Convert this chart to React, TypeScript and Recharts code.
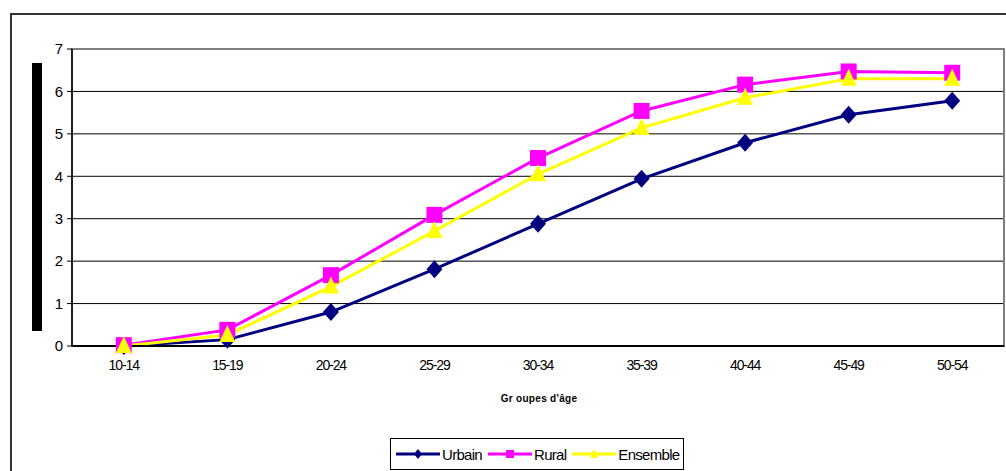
import React from 'react';
import { LineChart, Line, XAxis, YAxis, CartesianGrid, ReferenceArea, ReferenceLine } from 'recharts';

const groupes = ['10-14', '15-19', '20-24', '25-29', '30-34', '35-39', '40-44', '45-49', '50-54'];
const urbain = [0, 0.15, 0.8, 1.81, 2.88, 3.94, 4.79, 5.45, 5.78];
const rural = [0.02, 0.38, 1.67, 3.09, 4.43, 5.54, 6.16, 6.47, 6.44];
const ensemble = [0, 0.26, 1.4, 2.71, 4.05, 5.14, 5.85, 6.3, 6.3];
const yTicks = [0, 1, 2, 3, 4, 5, 6, 7];

const chartData = groupes.map((g, i) => ({
    idx: i,
    name: g,
    Urbain: urbain[i],
    Rural: rural[i],
    Ensemble: ensemble[i],
}));

const centerTicks = groupes.map((_, i) => i);
const edgeTicks = [...groupes.map((_, i) => i - 0.5), groupes.length - 0.5];

const font = '"Liberation Sans", Arial, sans-serif';

const Diamond = (props: any) => {
    const { cx, cy } = props;
    if (cx == null || cy == null) return null;
    const r = 9;
    return <path d={`M${cx},${cy - r}L${cx + 8},${cy}L${cx},${cy + r}L${cx - 8},${cy}Z`} fill="#000080" />;
};

const Square = (props: any) => {
    const { cx, cy } = props;
    if (cx == null || cy == null) return null;
    return <rect x={cx - 8} y={cy - 8} width={16} height={16} fill="#FF00FF" />;
};

const Triangle = (props: any) => {
    const { cx, cy } = props;
    if (cx == null || cy == null) return null;
    return <path d={`M${cx},${cy - 10}L${cx + 8},${cy + 7}L${cx - 8},${cy + 7}Z`} fill="#FFFF00" />;
};

const legendItems = [
    { label: 'Urbain', color: '#000080', mark: 'diamond' },
    { label: 'Rural', color: '#FF00FF', mark: 'square' },
    { label: 'Ensemble', color: '#FFFF00', mark: 'triangle' },
];

const LegendBox = () => (
    <div
        style={{
            position: 'absolute',
            left: 390,
            top: 438,
            width: 294,
            boxSizing: 'border-box',
            display: 'flex',
            alignItems: 'center',
            border: '1px solid #000',
            height: 32,
            padding: '0 0 0 4px',
            fontFamily: font,
            fontSize: 15,
            letterSpacing: -0.7,
            background: '#fff',
        }}
    >
        {legendItems.map(it => (
            <div key={it.label} style={{ display: 'flex', alignItems: 'center', marginRight: 5 }}>
                <svg width={46} height={14}>
                    <line x1={1} y1={7} x2={45} y2={7} stroke={it.color} strokeWidth={3} />
                    {it.mark === 'diamond' && <path d="M23,2L27,7L23,12L19,7Z" fill={it.color} />}
                    {it.mark === 'square' && <rect x={19} y={3} width={8} height={8} fill={it.color} />}
                    {it.mark === 'triangle' && <path d="M23,2L27,11L19,11Z" fill={it.color} />}
                </svg>
                <span style={{ marginLeft: 1 }}>{it.label}</span>
            </div>
        ))}
    </div>
);

const App: React.FC = () => {
    return (
        <div style={{ position: 'absolute', left: 0, top: 0, width: 1006, height: 471, background: '#fff', overflow: 'hidden' }}>
            <div
                style={{
                    position: 'absolute',
                    left: 10,
                    top: 13,
                    width: 1100,
                    height: 600,
                    border: '2px solid #333',
                    boxSizing: 'border-box',
                }}
            />
            <div style={{ position: 'absolute', left: 32, top: 63, width: 10, height: 268, background: '#000' }} />
            <div style={{ position: 'absolute', left: 0, top: 0 }}>
                <LineChart
                    width={1006}
                    height={471}
                    data={chartData}
                    margin={{ top: 49, right: 2, left: 0, bottom: 95 }}
                >
                    <ReferenceArea
                        y1={0}
                        y2={7}
                        x1={-0.5}
                        x2={8.5}
                        xAxisId="edge"
                        fill="none"
                        stroke="#808080"
                        strokeWidth={2}
                        ifOverflow="visible"
                    />
                    <CartesianGrid vertical={false} stroke="#000" xAxisId="main" />
                    <ReferenceLine y={7} xAxisId="main" stroke="#808080" strokeWidth={2} />
                    <XAxis
                        xAxisId="main"
                        type="number"
                        dataKey="idx"
                        domain={[-0.5, 8.5]}
                        ticks={centerTicks}
                        tickFormatter={(v: number) => groupes[v]}
                        tickLine={false}
                        axisLine={{ stroke: '#000', strokeWidth: 2 }}
                        tick={{ fill: '#000', fontSize: 14, fontFamily: font, letterSpacing: -1.1 }}
                        tickMargin={8}
                        height={30}
                        interval={0}
                    />
                    <XAxis
                        xAxisId="edge"
                        type="number"
                        dataKey="idx"
                        domain={[-0.5, 8.5]}
                        ticks={edgeTicks}
                        tick={false}
                        tickLine={{ stroke: '#000' }}
                        tickSize={5}
                        axisLine={false}
                        height={0}
                    />
                    <YAxis
                        domain={[0, 7]}
                        ticks={yTicks}
                        width={72}
                        tickSize={5}
                        tickLine={{ stroke: '#000' }}
                        axisLine={{ stroke: '#000', strokeWidth: 1.5 }}
                        tick={{ fill: '#000', fontSize: 15, fontFamily: font, dx: -2 }}
                        interval={0}
                    />
                    <Line
                        xAxisId="main"
                        dataKey="Urbain"
                        stroke="#000080"
                        strokeWidth={3}
                        dot={<Diamond />}
                        activeDot={false}
                        isAnimationActive={false}
                    />
                    <Line
                        xAxisId="main"
                        dataKey="Rural"
                        stroke="#FF00FF"
                        strokeWidth={3}
                        dot={<Square />}
                        activeDot={false}
                        isAnimationActive={false}
                    />
                    <Line
                        xAxisId="main"
                        dataKey="Ensemble"
                        stroke="#FFFF00"
                        strokeWidth={3}
                        dot={<Triangle />}
                        activeDot={false}
                        isAnimationActive={false}
                    />
                </LineChart>
            </div>
            <div
                style={{
                    position: 'absolute',
                    left: 439,
                    width: 200,
                    top: 393,
                    textAlign: 'center',
                    fontFamily: font,
                    fontWeight: 'bold',
                    fontSize: 10,
                    letterSpacing: 0.3,
                }}
            >
                Gr oupes d'âge
            </div>
            <LegendBox />
        </div>
    );
};

export default App;
